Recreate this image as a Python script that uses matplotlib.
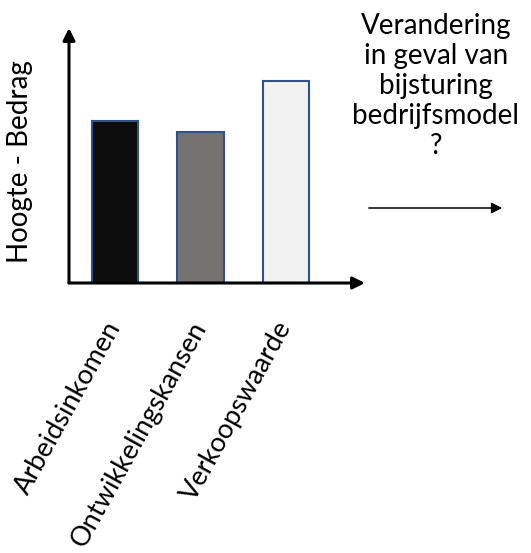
import matplotlib
matplotlib.use("Agg")
import matplotlib.pyplot as plt
from matplotlib.patches import FancyArrowPatch

categories = ["Arbeidsinkomen", "Ontwikkelingskansen", "Verkoopswaarde"]
values = [6.4, 6.0, 8.0]
colors = ["#0d0d0d", "#767171", "#f2f2f2"]
ylabel = "Hoogte - Bedrag"
note = "Verandering\nin geval van\nbijsturing\nbedrijfsmodel\n?"

plt.rcParams['font.family'] = ['Lato', 'DejaVu Sans']

W, H = 531, 553
fig = plt.figure(figsize=(W / 100, H / 100), dpi=100)

# axes placed in pixel terms: left 69, right 365, top 28, bottom 283
ax = fig.add_axes([69 / W, (H - 283) / H, (365 - 69) / W, (283 - 28) / H])
x = range(len(categories))
ax.bar(x, values, width=0.54, color=colors, edgecolor="#2f528f", linewidth=1.5, zorder=2)
ax.set_xlim(-0.538, 2.924)
ax.set_ylim(0, 10.1)
for s in ax.spines.values():
    s.set_visible(False)
ax.set_yticks([])
ax.set_xticks(list(x))
ax.set_xticklabels(categories, rotation=61, ha="right", va="center",
                   rotation_mode="anchor", fontsize=19.5)
ax.tick_params(axis="x", length=0, pad=29)

fig.text(20 / W, 1 - 162 / H, ylabel, rotation=90, ha="center", va="center", fontsize=20)

# axis arrows
arrow = dict(arrowstyle="-|>", color="black", lw=2.2, mutation_scale=18,
             shrinkA=0, shrinkB=0)
ax.annotate("", xy=(0, 1), xytext=(0, 0), xycoords="axes fraction", arrowprops=arrow)
ax.annotate("", xy=(1, 0), xytext=(0, 0), xycoords="axes fraction", arrowprops=arrow)

fig.text(436 / W, 1 - 86 / H, note, ha="center", va="center", fontsize=20, linespacing=1.18)
fig.patches.append(FancyArrowPatch(
    (366 / W, 1 - 208 / H), (505 / W, 1 - 208 / H), transform=fig.transFigure,
    arrowstyle="-|>", mutation_scale=16, lw=1.1, color="black"))

fig.savefig("out.png", dpi=100)
